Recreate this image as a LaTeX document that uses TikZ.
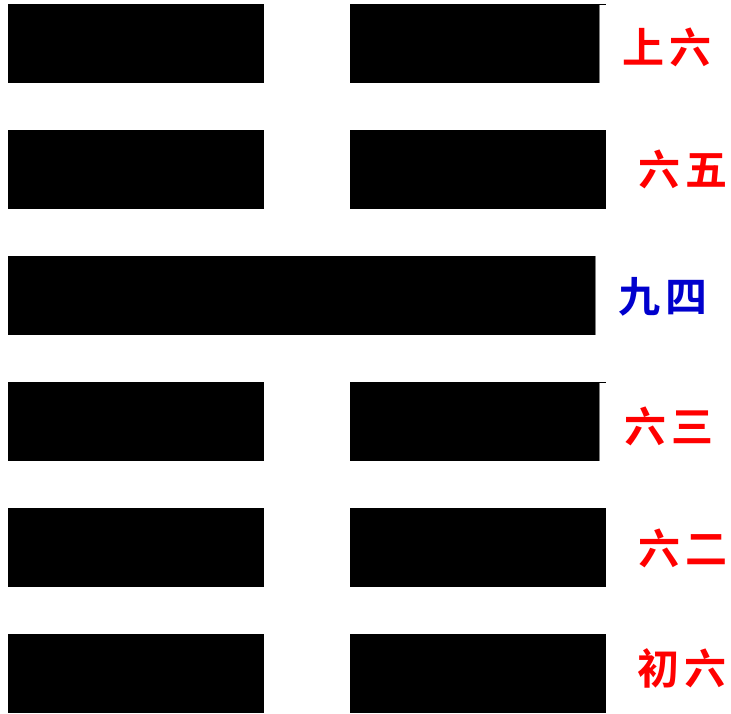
\documentclass[tikz,border=0pt]{standalone}
\usepackage{fontspec}
\newfontfamily\cjk{Noto Sans CJK SC Bold}
\definecolor{yinred}{RGB}{255,0,0}
\definecolor{yangblue}{RGB}{0,0,205}
\begin{document}
\begin{tikzpicture}[x=1pt,y=-1pt,
  bar/.style={fill=black,draw=none},
  lbl/.style={font=\cjk\fontsize{42}{42}\selectfont,inner sep=0pt,anchor=center},
  yin/.style={lbl,text=yinred},
  yang/.style={lbl,text=yangblue},
  edge/.style={draw=gray,line width=1pt}]
\useasboundingbox (0,0) rectangle (731,714);
% line 6 (top)
\fill[bar] (8,4) rectangle (264,83);
\fill[bar] (350,4) rectangle (599,83);
\draw[edge] (599.5,4) -- (599.5,83);
\draw[black,line width=1pt] (599,4.5) -- (606,4.5);
% line 5
\fill[bar] (8,130) rectangle (264,209);
\fill[bar] (350,130) rectangle (606,209);
% line 4 (yang)
\fill[bar] (8,256) rectangle (595,335);
\draw[edge] (595.5,256) -- (595.5,335);
% line 3
\fill[bar] (8,382) rectangle (264,461);
\fill[bar] (350,382) rectangle (599,461);
\draw[edge] (599.5,382) -- (599.5,461);
\draw[black,line width=1pt] (599,382.5) -- (606,382.5);
% line 2
\fill[bar] (8,508) rectangle (264,587);
\fill[bar] (350,508) rectangle (606,587);
% line 1
\fill[bar] (8,634) rectangle (264,713);
\fill[bar] (350,634) rectangle (606,713);
% labels
\node[yin]  (l6) at (667,47)  {上\kern6pt 六};
\node[yin]  (l5) at (683,169) {六\kern6pt 五};
\node[yang] (l4) at (663,297) {九\kern6pt 四};
\node[yin]  (l3) at (669,426) {六\kern6pt 三};
\node[yin]  (l2) at (683,548) {六\kern6pt 二};
\node[yin]  (l1) at (682,668) {初\kern6pt 六};
\end{tikzpicture}
\end{document}
